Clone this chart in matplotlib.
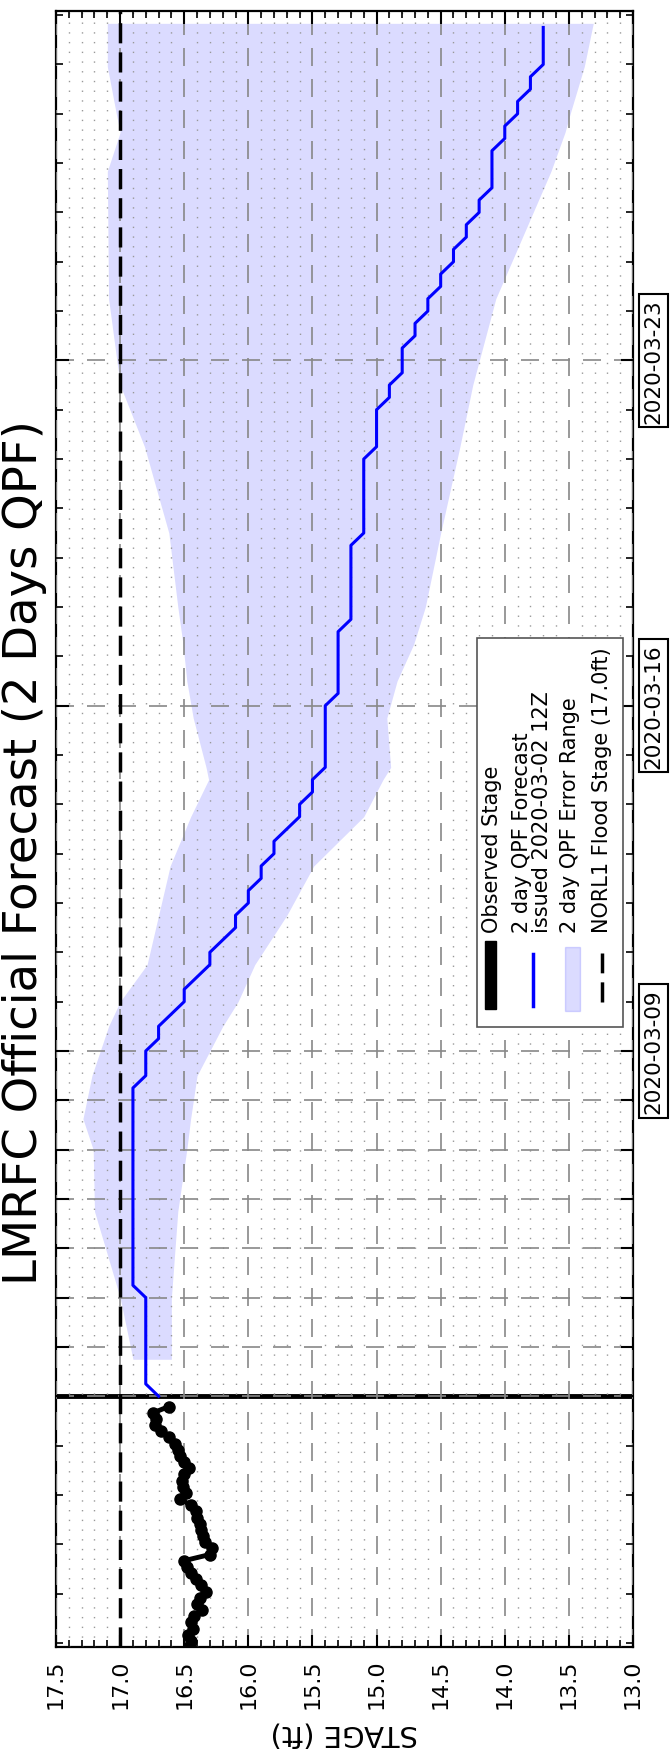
import datetime as dt
import matplotlib
matplotlib.use('Agg')
import matplotlib.pyplot as plt
import matplotlib.dates as mdates
import matplotlib.transforms as mtransforms
from matplotlib.patches import Rectangle
from matplotlib.lines import Line2D
from matplotlib.ticker import MultipleLocator, FixedLocator

# forecast issue / plot reference time
FCST_START = dt.datetime(2020, 3, 2, 0)
FLOOD_STAGE = 17.0

# observed stage, hours relative to forecast start
obs_hours = [-122, -119, -116, -113, -110, -107, -104, -101, -98, -95,
             -92, -89, -86, -83, -80, -77, -74, -71, -68, -65,
             -62, -59, -56, -53, -50, -47, -44, -41, -38, -35,
             -32, -29, -26, -23, -20, -17, -14, -11, -8, -5]
obs_stage = [16.46, 16.45, 16.47, 16.43, 16.45, 16.42, 16.36, 16.40, 16.38, 16.33,
             16.37, 16.41, 16.45, 16.48, 16.50, 16.30, 16.28, 16.34, 16.35, 16.37,
             16.38, 16.40, 16.41, 16.45, 16.53, 16.49, 16.51, 16.52, 16.50, 16.46,
             16.50, 16.53, 16.55, 16.57, 16.62, 16.68, 16.73, 16.72, 16.74, 16.62]

# 6-hourly QPF forecast (one row per day)
fcst_stage = [16.7, 16.8, 16.8, 16.8,
              16.8, 16.8, 16.8, 16.8,
              16.8, 16.9, 16.9, 16.9,
              16.9, 16.9, 16.9, 16.9,
              16.9, 16.9, 16.9, 16.9,
              16.9, 16.9, 16.9, 16.9,
              16.9, 16.9, 16.8, 16.8,
              16.8, 16.7, 16.7, 16.6,
              16.5, 16.5, 16.4, 16.3,
              16.3, 16.2, 16.1, 16.1,
              16.0, 16.0, 15.9, 15.9,
              15.8, 15.8, 15.7, 15.6,
              15.6, 15.5, 15.5, 15.4,
              15.4, 15.4, 15.4, 15.4,
              15.4, 15.3, 15.3, 15.3,
              15.3, 15.3, 15.3, 15.2,
              15.2, 15.2, 15.2, 15.2,
              15.2, 15.2, 15.1, 15.1,
              15.1, 15.1, 15.1, 15.1,
              15.1, 15.0, 15.0, 15.0,
              15.0, 14.9, 14.9, 14.8,
              14.8, 14.8, 14.7, 14.7,
              14.6, 14.6, 14.5, 14.5,
              14.4, 14.4, 14.3, 14.3,
              14.2, 14.2, 14.1, 14.1,
              14.1, 14.1, 14.0, 14.0,
              13.9, 13.9, 13.8, 13.8,
              13.7, 13.7, 13.7, 13.7]
FCST_STEP_H = 6

# error range envelope
err_hours = [18, 48, 90, 120, 135, 156, 180, 192, 210, 234, 258, 282, 300, 306,
             330, 348, 366, 384, 420, 462, 492, 534, 596, 615, 624, 647, 668]
err_high = [16.90, 17.00, 17.20, 17.21, 17.29, 17.22, 17.09, 17.00, 16.79, 16.70,
            16.61, 16.45, 16.31, 16.33, 16.43, 16.48, 16.51, 16.55, 16.62, 16.81,
            17.00, 17.09, 17.10, 17.00, 17.03, 17.10, 17.10]
err_low = [16.60, 16.60, 16.55, 16.48, 16.45, 16.40, 16.20, 16.08, 15.95, 15.70,
           15.49, 15.10, 14.95, 14.89, 14.92, 14.84, 14.71, 14.62, 14.50, 14.35,
           14.25, 14.07, 13.64, 13.53, 13.49, 13.38, 13.31]

stage_ticks = [17.5, 17.0, 16.5, 16.0, 15.5, 15.0, 14.5, 14.0, 13.5, 13.0]
grid_dates = ['2020-03-02', '2020-03-03', '2020-03-04', '2020-03-05', '2020-03-06',
              '2020-03-07', '2020-03-08', '2020-03-09', '2020-03-16', '2020-03-23']
label_dates = ['2020-03-09', '2020-03-16', '2020-03-23']
AXIS_START_H = -122
AXIS_END_H = 674

title = 'LMRFC Official Forecast (2 Days QPF)'
legend_labels = ['Observed Stage',
                 '2 day QPF Forecast',
                 'issued 2020-03-02 12Z',
                 '2 day QPF Error Range',
                 'NORL1 Flood Stage (%.1fft)' % FLOOD_STAGE]


def hrs(h):
    return FCST_START + dt.timedelta(hours=h)


obs_times = [hrs(h) for h in obs_hours]
fcst_times = [hrs(FCST_STEP_H * i) for i in range(len(fcst_stage))]
err_times = [hrs(h) for h in err_hours]

fig = plt.figure(figsize=(6.7, 17.65), dpi=100)
ax = fig.add_axes([56 / 670, 1 - 1648 / 1765, 577 / 670, 1636 / 1765])
ax.set_axisbelow(False)

# error envelope, forecast, observed
ax.fill_betweenx(err_times, err_high, err_low, color='blue', alpha=0.14, lw=0, zorder=1)
ax.plot(fcst_stage, fcst_times, color='blue', lw=2.2, zorder=4)
ax.plot(obs_stage, obs_times, color='black', lw=3.5, marker='o', ms=8, zorder=4)

# flood stage and "now" line
ax.axvline(FLOOD_STAGE, color='black', lw=2.5, dashes=(5.8, 2.6), zorder=3)
ax.axhline(FCST_START, color='black', lw=3.5, zorder=2)

ax.set_xlim(stage_ticks[0], stage_ticks[-1])
ax.set_ylim(hrs(AXIS_START_H), hrs(AXIS_END_H))

ax.xaxis.set_major_locator(FixedLocator(stage_ticks))
ax.xaxis.set_minor_locator(MultipleLocator(0.1))
ax.set_xticklabels(['%.1f' % s for s in stage_ticks])

grid_nums = [mdates.date2num(dt.datetime.strptime(d, '%Y-%m-%d')) for d in grid_dates]
ax.yaxis.set_major_locator(FixedLocator(grid_nums))
ax.yaxis.set_minor_locator(mdates.DayLocator())
ax.tick_params(axis='y', labelleft=False)

ax.tick_params(which='both', direction='in', top=True, right=True, color='black')
ax.tick_params(which='major', length=9, width=1.5)
ax.tick_params(which='minor', length=5, width=1.2)
ax.tick_params(axis='x', labelsize=16, labelrotation=90, pad=8)

ax.grid(which='major', color='#888888', linestyle=(0, (10.8, 7.8)), lw=1.2)
ax.grid(which='minor', axis='x', color='#999999', linestyle=(0, (1, 6)), lw=1.0)

for sp in ax.spines.values():
    sp.set_linewidth(1.6)

ax.set_xlabel('STAGE (ft)', rotation=180, fontsize=21, labelpad=8)

# date labels on the right side
trans = mtransforms.blended_transform_factory(ax.transAxes, ax.transData)
for d in label_dates:
    y = mdates.date2num(dt.datetime.strptime(d, '%Y-%m-%d'))
    ax.text(1.036, y, d, transform=trans, rotation=90, ha='center', va='center',
            fontsize=15.5, bbox=dict(boxstyle='square,pad=0.2', fc='white', ec='black', lw=1.5))

# rotated title on the left
ax.text(-0.054, 0.486, title, transform=ax.transAxes, rotation=90,
        ha='center', va='center', fontsize=33.5)

# hand-built rotated legend
ta = ax.transAxes
ax.add_patch(Rectangle((0.729, 0.379), 0.253, 0.238, transform=ta, facecolor='white',
                       edgecolor='#555555', lw=1.2, zorder=6))
ax.add_patch(Rectangle((0.743, 0.390), 0.020, 0.0415, transform=ta, facecolor='black',
                       edgecolor='black', zorder=7))
ax.add_line(Line2D([0.827, 0.827], [0.392, 0.4236], transform=ta, color='blue', lw=2.5, zorder=7))
ax.add_patch(Rectangle((0.882, 0.389), 0.026, 0.039, transform=ta, facecolor='blue',
                       alpha=0.14, edgecolor='blue', zorder=7))
ax.add_line(Line2D([0.946, 0.946], [0.394, 0.424], transform=ta, color='black', lw=2.5,
                   dashes=(5.8, 2.6), zorder=7))
for x, lab in zip([0.755, 0.807, 0.842, 0.891, 0.946], legend_labels):
    ax.text(x, 0.437, lab, transform=ta, rotation=90, rotation_mode='anchor',
            ha='left', va='center', fontsize=15, zorder=8)

fig.savefig('out.png', dpi=100)
